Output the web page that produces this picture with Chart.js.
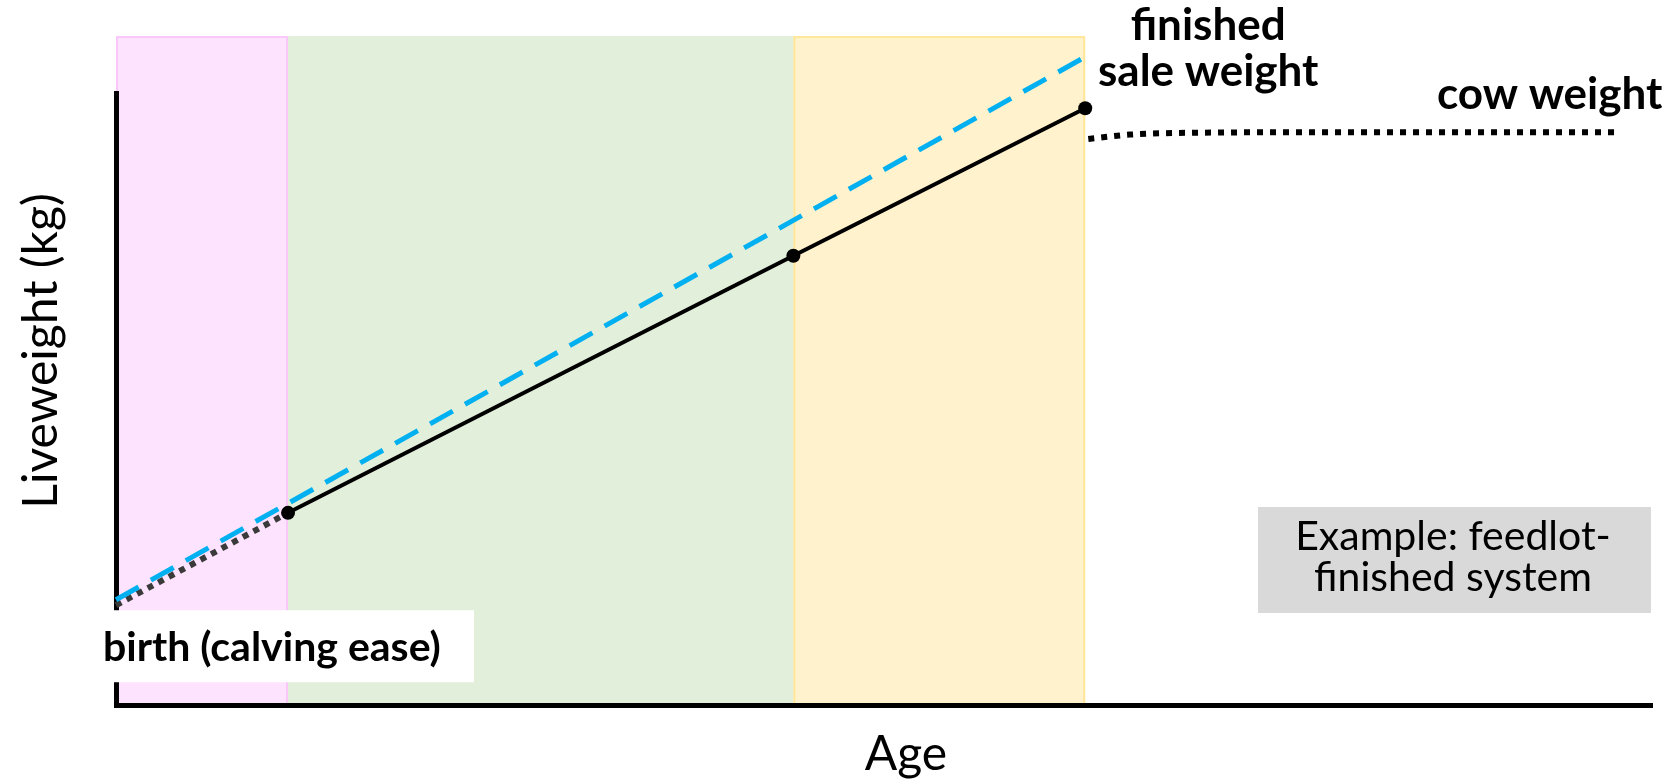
<!DOCTYPE html>
<html>
<head>
<meta charset="utf-8">
<script src="https://cdn.jsdelivr.net/npm/chart.js@4.4.1/dist/chart.umd.min.js"></script>
<style>
  html, body { margin: 0; padding: 0; background: #fff; }
  #wrap { width: 1671px; height: 780px; }
</style>
</head>
<body>
<div id="wrap"><canvas id="growth-chart"></canvas></div>
<script>
// age and liveweight are both on a relative 0-100 scale (no ticks shown)
const stageEdges = [0, 11.2, 44.1, 63.1];
const birthAges = [0, 11.2];
const birthWeights = [16.3, 31.4];
const steerAges = [11.2, 44.1, 63.1];
const steerWeights = [31.4, 73.4, 97.5];
const targetAges = [0, 63.1];
const targetWeights = [17.2, 105.9];
const cowAges = [63.3, 66, 70, 80, 97.7];
const cowWeights = [92.5, 93.2, 93.5, 93.6, 93.6];

const bandTop = 109.3;
const stageFills = ["#fde3fd", "#e2efda", "#fff2cc"];
const stageBorders = ["#f9c8f9", null, "#ffe699"];
const FONT = "Lato";

const toPoints = (xs, ys) => xs.map((v, i) => ({ x: v, y: ys[i] }));

const bandsPlugin = {
  id: "bands",
  beforeDraw(chart) {
    const { ctx, scales: { x, y } } = chart;
    const top = y.getPixelForValue(bandTop);
    const bottom = y.getPixelForValue(0);
    ctx.save();
    for (let i = 0; i < stageEdges.length - 1; i++) {
      const left = x.getPixelForValue(stageEdges[i]);
      const right = x.getPixelForValue(stageEdges[i + 1]);
      ctx.fillStyle = stageFills[i];
      ctx.fillRect(left, top, right - left, bottom - top);
      if (stageBorders[i]) {
        ctx.strokeStyle = stageBorders[i];
        ctx.lineWidth = 2;
        ctx.strokeRect(left + 1, top + 1, right - left - 2, bottom - top - 2);
      }
    }
    ctx.restore();
  }
};

const labelsPlugin = {
  id: "labels",
  afterDraw(chart) {
    const { ctx, scales: { x, y }, chartArea } = chart;
    ctx.save();
    ctx.textBaseline = "middle";

    // birth label on a white box over the axis
    const bx = x.getPixelForValue(birthAges[0]);
    const by = y.getPixelForValue(birthWeights[0]);
    ctx.fillStyle = "#fff";
    ctx.fillRect(bx - 13, by + 5, 371, 72);
    ctx.fillStyle = "#000";
    ctx.font = `bold 41px ${FONT}`;
    ctx.textAlign = "left";
    ctx.fillText("birth (calving ease)", bx - 13, by + 43);

    // finished sale weight
    const fx = x.getPixelForValue(steerAges[2]);
    const fy = y.getPixelForValue(steerWeights[2]);
    ctx.font = `bold 44px ${FONT}`;
    ctx.textAlign = "center";
    ctx.fillText("finished", fx + 123, fy - 82);
    ctx.fillText("sale weight", fx + 123, fy - 36);

    // cow weight
    const cx = x.getPixelForValue(cowAges[cowAges.length - 1]);
    const cy = y.getPixelForValue(cowWeights[cowWeights.length - 1]);
    ctx.fillText("cow weight", cx - 67, cy - 37);

    // example box
    const boxR = chartArea.right - 1, boxB = y.getPixelForValue(0) - 92;
    ctx.fillStyle = "#d9d9d9";
    ctx.fillRect(boxR - 393, boxB - 106, 393, 106);
    ctx.fillStyle = "#000";
    ctx.font = `41px ${FONT}`;
    ctx.fillText("Example: feedlot-", boxR - 198, boxB - 76);
    ctx.fillText("finished system", boxR - 198, boxB - 35);

    // axis titles
    ctx.font = `48px ${FONT}`;
    ctx.fillText("Age", 906, 755);
    ctx.translate(42, 351);
    ctx.rotate(-Math.PI / 2);
    ctx.fillText("Liveweight (kg)", 0, 0);
    ctx.restore();
  }
};

const axisOpts = (max) => ({
  type: "linear",
  min: 0,
  max: max,
  grid: { display: false, drawTicks: false },
  ticks: { display: false },
  border: { display: true, color: "#000", width: 5 }
});

new Chart(document.getElementById("growth-chart"), {
  type: "line",
  data: {
    datasets: [
      {
        label: "Steer",
        data: toPoints(steerAges, steerWeights),
        borderColor: "#000",
        backgroundColor: "#000",
        borderWidth: 4,
        pointRadius: 7,
        pointBorderWidth: 0,
        clip: false
      },
      {
        label: "Target",
        data: toPoints(targetAges, targetWeights),
        borderColor: "#00b0f0",
        borderWidth: 5,
        borderDash: [26, 14],
        pointRadius: 0,
        clip: false
      },
      {
        label: "Birth",
        data: toPoints(birthAges, birthWeights),
        borderColor: "#3a3a3a",
        borderWidth: 6,
        borderDash: [6, 6],
        pointRadius: 0,
        clip: false
      },
      {
        label: "Cow",
        data: toPoints(cowAges, cowWeights),
        borderColor: "#000",
        borderWidth: 6,
        borderDash: [6, 7],
        cubicInterpolationMode: "monotone",
        pointRadius: 0,
        clip: false
      }
    ]
  },
  options: {
    responsive: true,
    maintainAspectRatio: false,
    animation: false,
    devicePixelRatio: 1,
    layout: { padding: { left: 116, right: 19, top: 93, bottom: 75 } },
    plugins: {
      legend: { display: false },
      tooltip: { enabled: false }
    },
    scales: {
      x: axisOpts(100),
      y: axisOpts(100)
    }
  },
  plugins: [bandsPlugin, labelsPlugin]
});
</script>
</body>
</html>
